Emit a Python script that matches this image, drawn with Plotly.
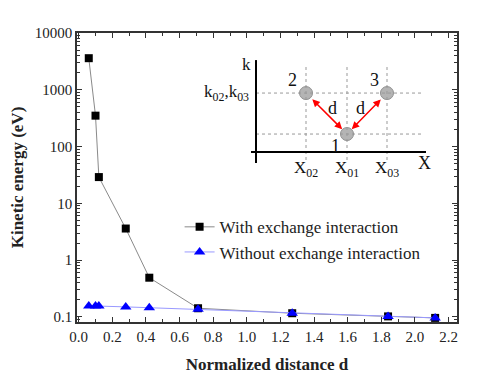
import plotly.graph_objects as go

# ---- data ----
d_with = [0.06, 0.10, 0.12, 0.28, 0.42, 0.71, 1.27, 1.84, 2.12]
e_with = [3600, 350, 29, 3.6, 0.49, 0.142, 0.116, 0.102, 0.096]
d_without = [0.06, 0.10, 0.12, 0.28, 0.42, 0.71, 1.27, 1.84, 2.12]
e_without = [0.155, 0.155, 0.155, 0.15, 0.145, 0.137, 0.116, 0.102, 0.096]
y_tickvals = [0.1, 1, 10, 100, 1000, 10000]
y_ticktext = ["0.1", "1", "10", "100", "1000", "10000"]

# inset schematic (own units)
X02, X01, X03 = 1.25, 2.275, 3.275
K01, K02 = 0.45, 1.475

FONT = "Times New Roman, Liberation Serif, DejaVu Serif, serif"
fig = go.Figure()

fig.add_trace(go.Scatter(
    x=d_with, y=e_with, mode="lines+markers", name="With exchange interaction",
    line=dict(color="#8a8a8a", width=1),
    marker=dict(symbol="square", size=8, color="black"),
))
fig.add_trace(go.Scatter(
    x=d_without, y=e_without, mode="lines+markers", name="Without exchange interaction",
    line=dict(color="#9999ff", width=1),
    marker=dict(symbol="triangle-up", size=10, color="#0000ff"),
))

# inset circles
fig.add_trace(go.Scatter(
    x=[X02, X01, X03], y=[K02, K01, K02], mode="markers", xaxis="x2", yaxis="y2",
    marker=dict(size=13, color="#b4b4b4", line=dict(color="#909090", width=1)),
    showlegend=False, hoverinfo="skip",
))

axis_common = dict(
    showline=True, linecolor="#333", linewidth=1.5, mirror="ticks",
    ticks="inside", ticklen=5, tickcolor="#333", tickwidth=1,
    showgrid=False, zeroline=False, automargin=False,
    tickfont=dict(family=FONT, size=15, color="#222"),
)

fig.update_layout(
    width=489, height=382,
    margin=dict(l=69, r=40, t=25, b=68),
    paper_bgcolor="white", plot_bgcolor="white",
    font=dict(family=FONT, color="#222"),
    xaxis=dict(
        **axis_common, range=[-0.01, 2.25], dtick=0.2, tick0=0, tickformat=".1f",
        minor=dict(ticks="inside", ticklen=3, dtick=0.1, tickcolor="#333"),
        title=dict(text="<b>Normalized distance d</b>", font=dict(family=FONT, size=17), standoff=14),
    ),
    yaxis=dict(
        **axis_common, type="log", range=[-1.09, 4.0],
        tickvals=y_tickvals, ticktext=y_ticktext,
        minor=dict(ticks="inside", ticklen=3, dtick="D1", tickcolor="#333"),
        title=dict(text="<b>Kinetic energy (eV)</b>", font=dict(family=FONT, size=17), standoff=8),
    ),
    xaxis2=dict(domain=[0.4395, 0.9342], range=[-0.3, 4.4], visible=False, anchor="y2"),
    yaxis2=dict(domain=[0.519, 0.934], range=[-0.5, 2.5], visible=False, anchor="x2"),
    legend=dict(
        x=0.27, y=0.39, xanchor="left", yanchor="top",
        bgcolor="rgba(0,0,0,0)", font=dict(family=FONT, size=17, color="#222"),
        tracegroupgap=0, itemwidth=30,
    ),
    showlegend=True,
)

# inset axes & guide lines
shapes = []
dash = dict(color="#999", width=1, dash="dot")
for kv in [K01, K02]:
    shapes.append(dict(type="line", xref="x2", yref="y2", x0=0, x1=4.2, y0=kv, y1=kv, line=dash))
for xv in [X02, X01, X03]:
    shapes.append(dict(type="line", xref="x2", yref="y2", x0=xv, x1=xv, y0=-0.2, y1=2.15, line=dash))
shapes.append(dict(type="line", xref="x2", yref="y2", x0=0, x1=0, y0=-0.275, y1=2.3,
                   line=dict(color="black", width=2)))
shapes.append(dict(type="line", xref="x2", yref="y2", x0=-0.125, x1=4.25, y0=0, y1=0,
                   line=dict(color="black", width=2)))
fig.update_layout(shapes=shapes)

ann = []
def txt(x, y, t, size=17, xanchor="center"):
    ann.append(dict(x=x, y=y, xref="x2", yref="y2", text=t, showarrow=False,
                    font=dict(family=FONT, size=size, color="#111"), xanchor=xanchor, yanchor="middle"))

txt(-0.25, 2.2, "k")
txt(4.2, -0.27, "X", size=18)
txt(-0.12, K02, "k<sub>02</sub>,k<sub>03</sub>", xanchor="right")
txt(-0.65, 0.37, "k<sub>01</sub>")
txt(X02, -0.42, "X<sub>02</sub>")
txt(X01, -0.42, "X<sub>01</sub>")
txt(X03, -0.42, "X<sub>03</sub>")
txt(0.9, 1.8, "2", size=18)
txt(2.95, 1.8, "3", size=18)
txt(1.98, 0.14, "1", size=18)
txt(1.9, 1.1, "d", size=18)
txt(2.62, 1.1, "d", size=18)

# red double-headed arrows
for (xa, ya) in [(X02, K02), (X03, K02)]:
    dx = X01 - xa
    dy = K01 - ya
    L = (dx * dx + dy * dy) ** 0.5
    sh = 0.17
    ann.append(dict(
        xref="x2", yref="y2", axref="x2", ayref="y2",
        x=X01 - dx / L * sh, y=K01 - dy / L * sh,
        ax=xa + dx / L * sh, ay=ya + dy / L * sh,
        showarrow=True, arrowhead=2, startarrowhead=2, arrowside="end+start",
        arrowsize=1, startarrowsize=1, arrowwidth=1.5, arrowcolor="red", text="",
    ))
fig.update_layout(annotations=ann)

fig.write_html("out.html")
